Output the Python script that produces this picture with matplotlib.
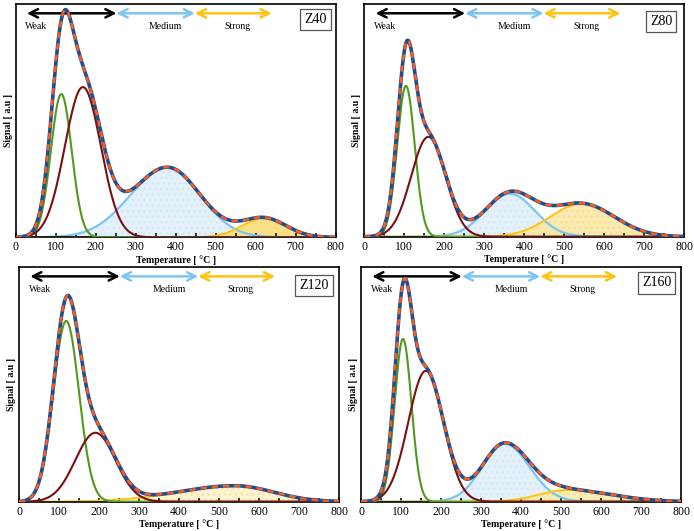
"""
NH3-TPD deconvolution, 2x2 panels (Z40 / Z80 / Z120 / Z160).
Peaks are bi-gaussians described by centre / height / left & right width
read off the published figure; total = sum of the peaks.
"""
import matplotlib
matplotlib.use("Agg")
import matplotlib.pyplot as plt
import numpy as np

plt.rcParams["font.family"] = ["Liberation Serif", "DejaVu Serif"]
plt.rcParams["hatch.linewidth"] = 0.6

PANELS = ["Z40", "Z80", "Z120", "Z160"]
T_MAX = 800
Y_TOP = [233, 233, 235, 235]

# weak 1 (green)
GREEN_CENTER = [114, 104, 118, 105]
GREEN_HEIGHT = [143, 151, 181, 163]
GREEN_SIGMA = [26, 22, 32, 21]
# weak 2 (dark red)
RED_CENTER = [168, 160, 191, 162]
RED_HEIGHT = [150, 100, 69, 131]
RED_SIGMA = [45, 43, 50, 44]
# medium (light blue)
BLUE_CENTER = [379, 364, 380, 359]
BLUE_HEIGHT = [70, 43, 0, 58]
BLUE_SIGMA_L = [92, 62, 60, 56]
BLUE_SIGMA_R = [82, 62, 60, 62]
# strong (yellow)
YELLOW_CENTER = [621, 543, 540, 515]
YELLOW_HEIGHT = [19, 33, 16, 11.7]
YELLOW_SIGMA_L = [55, 78, 145, 70]
YELLOW_SIGMA_R = [55, 82, 95, 110]

# acid-strength ranges shown by the arrows (°C)
RANGE_LABELS = ["Weak", "Medium", "Strong"]
RANGE_EDGES = [28, 252, 448, 640]
RANGE_LABEL_X = [52, 375, 554]

# axes boxes in figure fraction (left, bottom, width, height)
BOXES = [
    (0.0226, 0.5531, 0.4611, 0.4394),
    (0.5250, 0.5542, 0.4611, 0.4383),
    (0.0274, 0.0552, 0.4611, 0.4420),
    (0.5202, 0.0552, 0.4611, 0.4420),
]
TAG_POS = [(0.937, 0.933), (0.927, 0.924), (0.922, 0.920), (0.924, 0.932)]

C_GREEN = "#4f9a1c"
C_RED = "#7a0f12"
C_BLUE = "#7cc4f2"
C_BLUE_FILL = "#e4f1fa"
C_YEL = "#ffc20e"
C_YEL_FILL = ["#fbdc78", "#fbe8a6", "#fdf2cf", "#fbeab0"]
C_TOTAL = "#1c4f8f"
C_FIT = "#ff5a1e"


def peak(t, c, h, sl, sr):
    s = np.where(t < c, sl, sr)
    return h * np.exp(-(t - c) ** 2 / (2 * s ** 2))


t = np.linspace(0, T_MAX, 801)
fig = plt.figure(figsize=(6.94, 5.31), dpi=100)

for i, name in enumerate(PANELS):
    ax = fig.add_axes(BOXES[i])
    g = peak(t, GREEN_CENTER[i], GREEN_HEIGHT[i], GREEN_SIGMA[i], GREEN_SIGMA[i])
    r = peak(t, RED_CENTER[i], RED_HEIGHT[i], RED_SIGMA[i], RED_SIGMA[i])
    b = peak(t, BLUE_CENTER[i], BLUE_HEIGHT[i], BLUE_SIGMA_L[i], BLUE_SIGMA_R[i])
    y = peak(t, YELLOW_CENTER[i], YELLOW_HEIGHT[i], YELLOW_SIGMA_L[i], YELLOW_SIGMA_R[i])
    total = g + r + b + y

    if BLUE_HEIGHT[i] > 0:
        ax.fill_between(t, 0, b, facecolor=C_BLUE_FILL, edgecolor="#cfe6f5",
                        hatch="...", lw=0, zorder=1)
    ax.fill_between(t, 0, y, facecolor=C_YEL_FILL[i], edgecolor="#f6dc8a",
                    hatch="...", lw=0, zorder=1, alpha=0.9)
    if BLUE_HEIGHT[i] > 0:
        ax.plot(t, b, color=C_BLUE, lw=1.6, zorder=2)
    ax.plot(t, y, color=C_YEL, lw=1.4, zorder=2)
    ax.plot(t, g, color=C_GREEN, lw=1.5, zorder=3)
    ax.plot(t, r, color=C_RED, lw=1.5, zorder=3)
    ax.plot(t, total, color=C_TOTAL, lw=2.6, zorder=4)
    ax.plot(t, total, color=C_FIT, lw=1.8, ls=(0, (2.5, 2)), zorder=5)

    ax.set_xlim(0, T_MAX)
    ax.set_ylim(0, Y_TOP[i])
    ax.set_xticks(np.arange(0, 801, 100))
    ax.set_xticks(np.arange(50, 800, 100), minor=True)
    ax.set_yticks([])
    ax.tick_params(axis="x", which="both", direction="in", length=3,
                   width=1.1, labelsize=8.5, pad=3)
    for sp in ax.spines.values():
        sp.set_linewidth(1.2)
    ax.set_xlabel("Temperature [ °C ]", fontsize=7, fontweight="bold", labelpad=1)
    ax.set_ylabel("Signal [ a.u ]", fontsize=7, fontweight="bold", va="center")
    ax.yaxis.set_label_coords(-0.024, 0.5)

    # strength-range arrows
    tr = ax.get_xaxis_transform()
    for k, col in enumerate(["black", C_BLUE, C_YEL]):
        ax.annotate("", xy=(RANGE_EDGES[k + 1], 0.96), xytext=(RANGE_EDGES[k], 0.96),
                    xycoords=tr, textcoords=tr,
                    arrowprops=dict(arrowstyle="<->,head_length=0.6,head_width=0.3",
                                    color=col, lw=1.8, shrinkA=0, shrinkB=0))
        ax.text(RANGE_LABEL_X[k], 0.905, RANGE_LABELS[k], transform=tr,
                ha="center", va="center", fontsize=7)

    ax.text(TAG_POS[i][0], TAG_POS[i][1], name, transform=ax.transAxes,
            ha="center", va="center", fontsize=10,
            bbox=dict(boxstyle="square,pad=0.3", fc="white", ec="#555555", lw=0.9))

fig.savefig("out.png", dpi=100)
